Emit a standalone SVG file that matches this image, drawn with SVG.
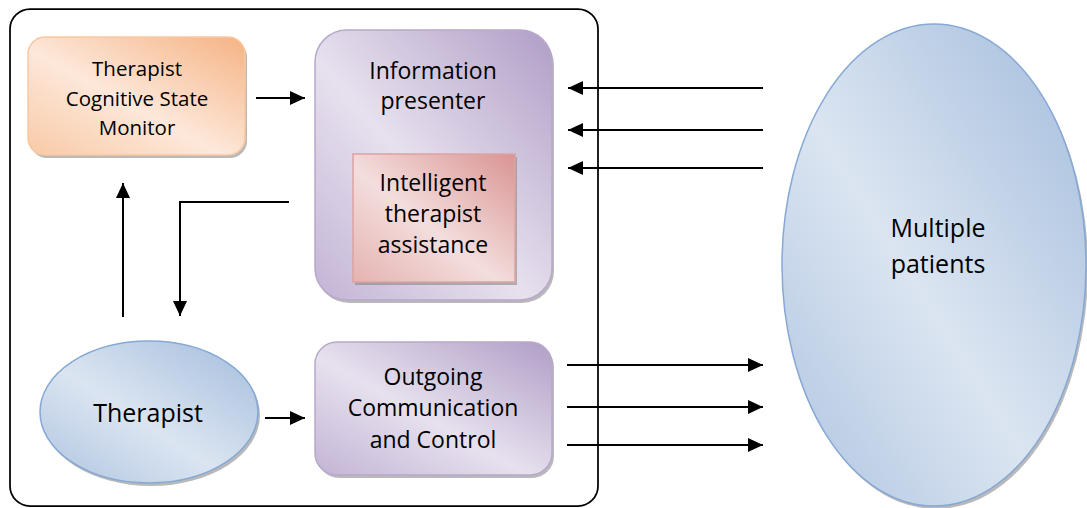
<svg xmlns="http://www.w3.org/2000/svg" width="1087" height="508" viewBox="0 0 1087 508">
<style>
.t{font-family:"Open Sans","Liberation Sans",sans-serif;fill:#000;text-anchor:middle}
.s20{font-size:20.5px}
.s23{font-size:23px}
.s25{font-size:25px}
.conn{stroke:#000;stroke-width:2;fill:none}
.shadow{fill:#7f7f7f;opacity:0.55}
</style>
<defs>
<linearGradient id="gOrange" x1="1" y1="0" x2="0" y2="1">
<stop offset="0" stop-color="#f5b384"/>
<stop offset="0.55" stop-color="#fde8da"/>
<stop offset="1" stop-color="#f8caa6"/>
</linearGradient>
<linearGradient id="gPurple" x1="1" y1="0" x2="0" y2="1">
<stop offset="0" stop-color="#b09ec6"/>
<stop offset="0.55" stop-color="#e7e1ee"/>
<stop offset="1" stop-color="#c2b4d5"/>
</linearGradient>
<linearGradient id="gPink" x1="1" y1="0" x2="0" y2="1">
<stop offset="0" stop-color="#d99492"/>
<stop offset="0.55" stop-color="#f3dedd"/>
<stop offset="1" stop-color="#e4b3b1"/>
</linearGradient>
<linearGradient id="gBlue" x1="1" y1="0" x2="0" y2="1">
<stop offset="0" stop-color="#a3bcdc"/>
<stop offset="0.55" stop-color="#dbe5f1"/>
<stop offset="1" stop-color="#aec4e0"/>
</linearGradient>
<marker id="arr" viewBox="0 0 15 14" refX="15" refY="7" markerWidth="15" markerHeight="14" markerUnits="userSpaceOnUse" orient="auto">
<path d="M0,0 L15,7 L0,14 z" fill="#000"/>
</marker>
</defs>

<g id="container">
<rect x="10" y="9" width="588" height="497" rx="20" ry="20" fill="#fff" stroke="#000" stroke-width="1.75"/>
</g>

<g id="node-monitor">
<rect class="shadow" x="30" y="40" width="217" height="118" rx="17"/>
<rect x="28" y="37" width="217" height="118" rx="17" fill="url(#gOrange)" stroke="#f9c7a0" stroke-width="1.5"/>
<text class="t s20" x="137" y="76">Therapist</text>
<text class="t s20" x="137" y="106">Cognitive State</text>
<text class="t s20" x="137" y="135">Monitor</text>
</g>

<g id="node-info">
<rect class="shadow" x="317" y="33" width="237" height="270" rx="32"/>
<rect x="315" y="30" width="237" height="270" rx="32" fill="url(#gPurple)" stroke="#b8a8cc" stroke-width="1.5"/>
<text class="t s23" x="433" y="79">Information</text>
<text class="t s23" x="433" y="109">presenter</text>
</g>

<g id="node-assist">
<rect class="shadow" x="355" y="157" width="162" height="128"/>
<rect x="353" y="154" width="162" height="128" fill="url(#gPink)" stroke="#dca4a2" stroke-width="1.5"/>
<text class="t s23" x="433" y="191">Intelligent</text>
<text class="t s23" x="433" y="222">therapist</text>
<text class="t s23" x="433" y="253">assistance</text>
</g>

<g id="node-therapist">
<ellipse class="shadow" cx="151" cy="415" rx="109" ry="71"/>
<ellipse cx="149" cy="412" rx="109" ry="71" fill="url(#gBlue)" stroke="#86a8d4" stroke-width="1.5"/>
<text class="t s25" x="148" y="422">Therapist</text>
</g>

<g id="node-outgoing">
<rect class="shadow" x="317" y="345" width="237" height="133" rx="22"/>
<rect x="315" y="342" width="237" height="133" rx="22" fill="url(#gPurple)" stroke="#b8a8cc" stroke-width="1.5"/>
<text class="t s23" x="433" y="385">Outgoing</text>
<text class="t s23" x="433" y="416">Communication</text>
<text class="t s23" x="433" y="448">and Control</text>
</g>

<g id="node-patients">
<ellipse class="shadow" cx="936" cy="268" rx="152" ry="241"/>
<ellipse cx="934" cy="265" rx="152" ry="241" fill="url(#gBlue)" stroke="#86a8d4" stroke-width="1.5"/>
<text class="t s25" x="938" y="237">Multiple</text>
<text class="t s25" x="938" y="273">patients</text>
</g>

<g id="connectors">
<line class="conn" x1="256" y1="98" x2="305" y2="98" marker-end="url(#arr)"/>
<line class="conn" x1="123" y1="317" x2="123" y2="183" marker-end="url(#arr)"/>
<polyline class="conn" points="289,202 180,202 180,316" marker-end="url(#arr)"/>
<line class="conn" x1="265" y1="418" x2="305" y2="418" marker-end="url(#arr)"/>
<line class="conn" x1="763" y1="88" x2="568" y2="88" marker-end="url(#arr)"/>
<line class="conn" x1="763" y1="130" x2="568" y2="130" marker-end="url(#arr)"/>
<line class="conn" x1="763" y1="168" x2="568" y2="168" marker-end="url(#arr)"/>
<line class="conn" x1="567" y1="365" x2="763" y2="365" marker-end="url(#arr)"/>
<line class="conn" x1="567" y1="407" x2="763" y2="407" marker-end="url(#arr)"/>
<line class="conn" x1="567" y1="445" x2="763" y2="445" marker-end="url(#arr)"/>
</g>
</svg>
